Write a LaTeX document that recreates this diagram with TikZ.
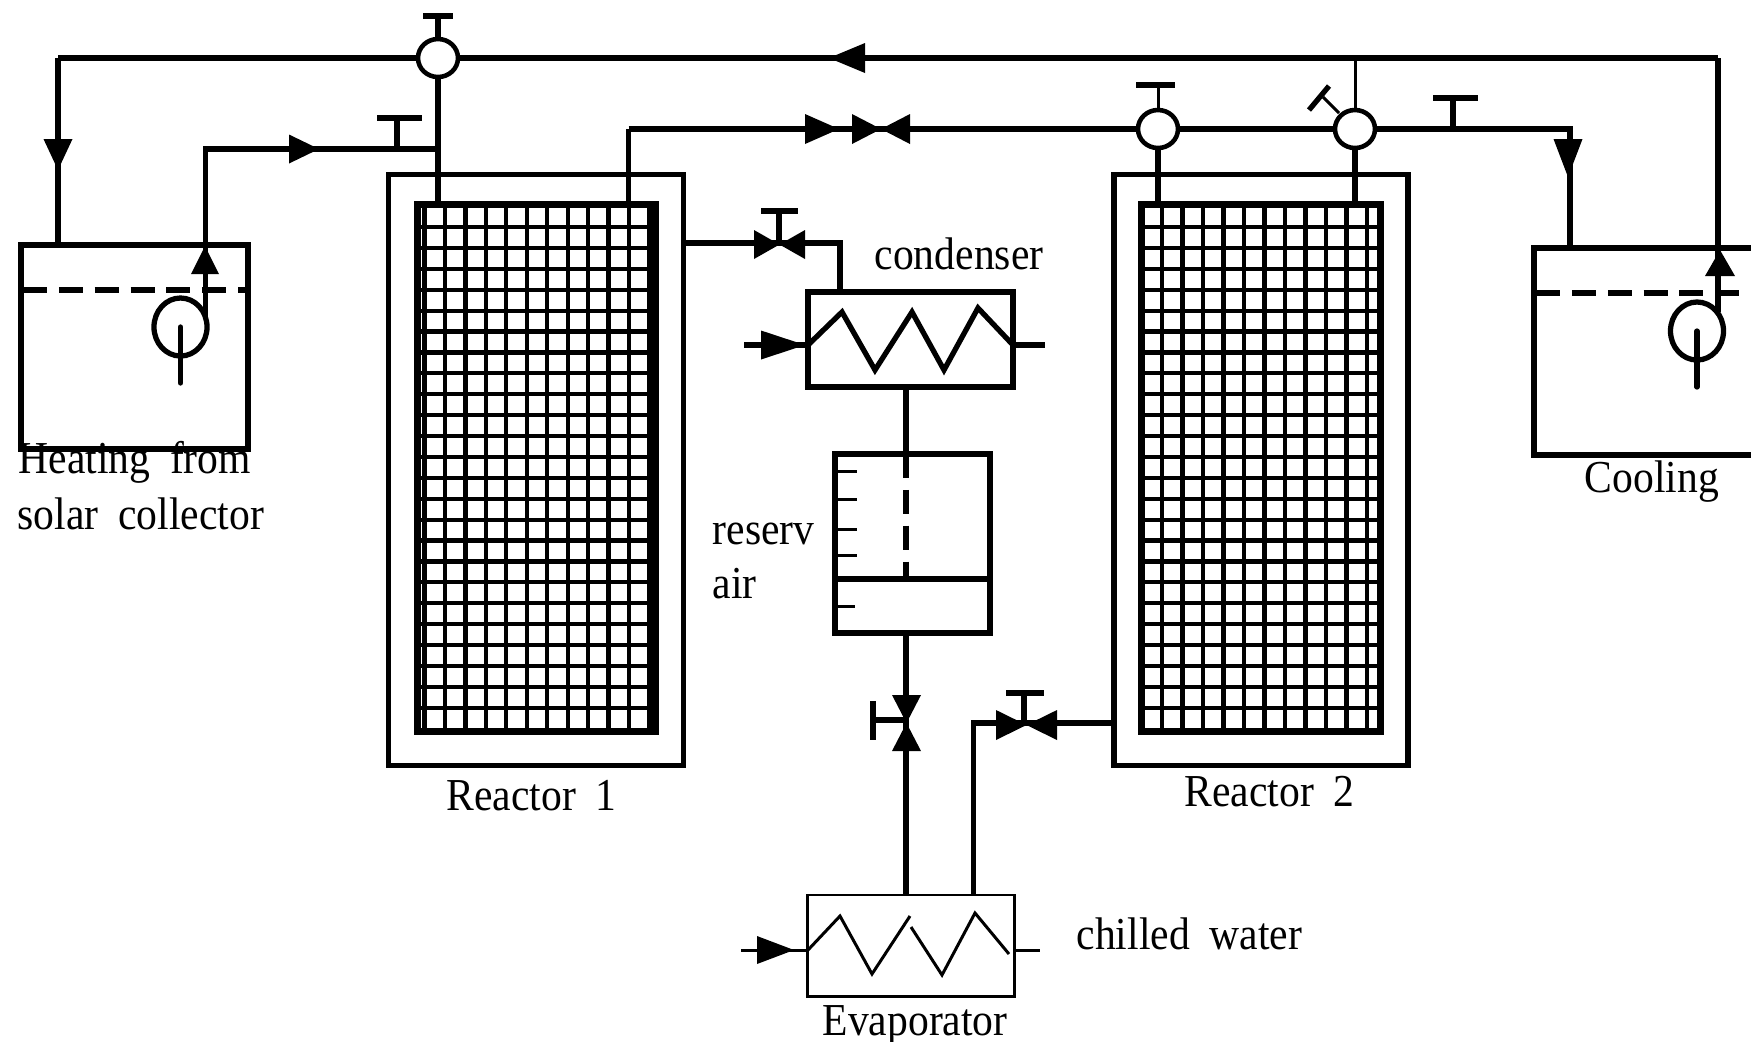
\documentclass[tikz,border=0pt]{standalone}
\usepackage{fontspec}
\setmainfont[WordSpace=1.9,FakeStretch=0.91]{Liberation Serif}
\usetikzlibrary{shapes.geometric}
\tikzset{
    pipe/.style={line width=1.5pt},
    heavy/.style={line width=1.9pt},
    thinpipe/.style={line width=0.85pt},
    level/.style={line width=1.7pt,dash pattern=on 6.8pt off 3.4pt},
    mesh/.style={line width=1.2pt},
    box/.style={draw,line width=1.5pt,rectangle,inner sep=0pt,outer sep=0pt},
    bed/.style={draw,line width=2pt,rectangle,inner sep=0pt,outer sep=0pt},
    threeway/.style={draw,line width=1.3pt,ellipse,fill=white,inner sep=0pt,outer sep=0pt,minimum width=.4cm,minimum height=.38cm},
    pump/.style={draw,line width=1.5pt,ellipse,inner sep=0pt,outer sep=0pt,minimum width=.53cm,minimum height=.58cm},
    lbl/.style={anchor=base west,inner sep=0pt,font=\fontsize{13}{15}\selectfont},
}
\newcommand{\flowtip}[5]{\fill[shift={(#1,#2)},rotate=#3] (0,0) -- (-#4,#5) -- (-#4,-#5) -- cycle;}
\newcommand{\gatevalve}[5]{\fill[shift={(#1,#2)},rotate=#5] (-#3,-#4) -- (#3,#4) -- (#3,-#4) -- (-#3,#4) -- cycle;}
\begin{document}
\begin{tikzpicture}[x=0.01cm,y=-0.01cm]
    \useasboundingbox (0,0) rectangle (1751,1041);
    \clip (0,0) rectangle (1751,1041);

    % Tanks
    \node[box,minimum width=2.27cm,minimum height=2.04cm] (T1) at (134.5,347) {};
    \node[box,minimum width=2.4cm,minimum height=2.07cm] (T2) at (1654,351.5) {};
    \node[pump] (P1) at (180.5,327) {};
    \node[pump] (P2) at (1697,331) {};
    \draw[level] (23,290) -- (248,290);
    \draw[level] (1536,293) -- (1751,293);

    % Reactors
    \node[box,minimum width=2.95cm,minimum height=5.9cm] (R1) at (536,470) {};
    \node[box,minimum width=2.94cm,minimum height=5.9cm] (R2) at (1261,470) {};
    \node[bed,minimum width=2.37cm,minimum height=5.26cm] (G1) at (536.5,468) {};
    \node[bed,minimum width=2.38cm,minimum height=5.26cm] (G2) at (1261,468) {};
    \foreach \i in {-1,...,10}
        \draw[mesh] (445+\i*20.45,205) -- (445+\i*20.45,731);
    \foreach \i in {0,...,10}
        \draw[mesh] (1162+\i*20.5,205) -- (1162+\i*20.5,731);
    \foreach \k in {0,...,23} {
        \draw[mesh] (418,227+\k*20.9) -- (655,227+\k*20.9);
        \draw[mesh] (1142,227+\k*20.9) -- (1380,227+\k*20.9);
    }

    % Condenser, reservoir, evaporator
    \node[box,minimum width=2.05cm,minimum height=.95cm] (C) at (910.5,339.5) {};
    \node[box,minimum width=1.55cm,minimum height=1.79cm] (B) at (912.5,543.5) {};
    \node[box,thinpipe,minimum width=2.06cm,minimum height=1.01cm] (E) at (911,945.5) {};

    % Three way valves
    \node[threeway] (V1) at (438,58) {};
    \node[threeway] (V2) at (1158,129) {};
    \node[threeway] (V3) at (1355,129) {};

    % Corners of the pipes
    \coordinate (A1) at (58,58);
    \coordinate (A2) at (1718,58);
    \coordinate (A3) at (205,149);
    \coordinate (A4) at (628.5,129);
    \coordinate (A5) at (1570,129);
    \coordinate (A6) at (840,243);
    \coordinate (A7) at (906,400);
    \coordinate (A8) at (973.5,723);
    \coordinate (C1) at (808,345);
    \coordinate (C2) at (1013,345);
    \coordinate (E1) at (808,950);
    \coordinate (E2) at (1014,950);

    % Hot and cooling water
    \draw[heavy] (V1.west) -- (A1);
    \draw[pipe] (A1) -- (A1 |- T1.north);
    \draw[heavy] (V1.east) -- (A2);
    \draw[pipe] (A2) -- (1718,312);
    \draw[pipe] (P1.20) -- (P1.20 |- A3) -- (V1 |- A3);
    \draw[pipe] (V1.south) -- (V1 |- G1.north);
    \draw[heavy] (A4) -- (V2.west);
    \draw[pipe] (A4 |- G1.north) -- (A4);
    \draw[heavy] (V2.east) -- (V3.west);
    \draw[pipe] (V2.south) -- (V2 |- G2.north);
    \draw[pipe] (V3.south) -- (V3 |- G2.north);
    \draw[thinpipe] (V3.north) -- (V3 |- A2);
    \draw[pipe] (V3.east) -- (A5) -- (A5 |- T2.north);
    \draw[pipe,line cap=round] (P1.center) -- ++(0,56);
    \draw[pipe,line cap=round] (P2.center) -- ++(0,56);

    % Refrigerant
    \draw[pipe] (R1.east |- A6) -- (A6) -- (A6 |- C.north);
    \draw[pipe] (A7 |- C.south) -- (A7 |- B.north);
    \draw[level] (A7 |- B.north) -- (906,579);
    \draw[heavy] (B.south -| A7) -- (A7 |- E.north);
    \draw[pipe] (A8 |- E.north) -- (A8) -- (R2.west |- A8);

    % Condenser coil
    \draw[pipe] (744,345) -- (C1);
    \draw[pipe] (C2) -- (1045,345);
    \draw[pipe] (C1) -- (842,312) -- (875,370) -- (912,312) -- (944,370) -- (978,308) -- (C2);

    % Evaporator coil
    \draw[thinpipe] (741,950) -- (E1);
    \draw[thinpipe] (E2) -- (1040,950);
    \draw[thinpipe] (E1) -- (840,916) -- (872,974) -- (910,916);
    \draw[thinpipe] (911,927) -- (942,975) -- (975,913) -- (1009,954);

    % Reservoir
    \draw[pipe] (B.west |- 0,579) -- (B.east |- 0,579);
    \foreach \y in {471,499,529,555}
        \draw[thinpipe] (835,\y) -- (857,\y);
    \draw[thinpipe] (835,606) -- (855,606);

    % Valve handles
    \draw[pipe] (V1.north) -- (438,16);
    \draw[pipe] (423,16) -- (453,16);
    \draw[pipe] (397,149) -- (397,118);
    \draw[heavy] (377,118) -- (422,118);
    \draw[thinpipe] (V2.north) -- (1158,85);
    \draw[pipe] (1136,85) -- (1175,85);
    \draw[thinpipe] (1339,113) -- (1323,97);
    \draw[pipe] (1309,110) -- (1329,86);
    \draw[pipe] (1453,128) -- (1453,98);
    \draw[heavy] (1433,98) -- (1478,98);
    \draw[pipe] (779,243) -- (779,211);
    \draw[heavy] (761,211) -- (798,211);
    \draw[pipe] (873,720) -- (906,720);
    \draw[pipe] (873,701) -- (873,740);
    \draw[pipe] (1024,723) -- (1024,693);
    \draw[heavy] (1006,693) -- (1044,693);

    % Valves
    \gatevalve{881}{129}{29}{15}{0}
    \gatevalve{779.5}{244.5}{25.5}{14.5}{0}
    \gatevalve{906.5}{723}{28}{14.5}{90}
    \gatevalve{1026.5}{725}{30.5}{15}{0}

    % Flow directions
    \flowtip{58}{170}{-90}{31}{14.5}
    \flowtip{319}{149}{0}{30}{14.5}
    \flowtip{205}{246}{90}{28}{14}
    \flowtip{829}{58}{180}{36}{15}
    \flowtip{839}{129}{0}{34}{15}
    \flowtip{1568}{177}{-90}{38}{14.5}
    \flowtip{1720}{250}{90}{26}{15}
    \flowtip{805}{345}{0}{44}{14.5}
    \flowtip{794}{950}{0}{37}{14}

    % Labels
    \node[lbl] (L1) at (18,473) {Heating from};
    \node[lbl] (L2) at (17,529) {solar collector};
    \node[lbl] (L3) at (446,810) {Reactor 1};
    \node[lbl] (L4) at (1184,806) {Reactor 2};
    \node[lbl] (L5) at (1584,492) {Cooling};
    \node[lbl] (L6) at (874,269) {condenser};
    \node[lbl] (L7) at (712,544) {reserv};
    \node[lbl] (L8) at (712,598) {air};
    \node[lbl] (L9) at (1076,949) {chilled water};
    \node[lbl] (L10) at (822,1035) {Evaporator};
\end{tikzpicture}
\end{document}
